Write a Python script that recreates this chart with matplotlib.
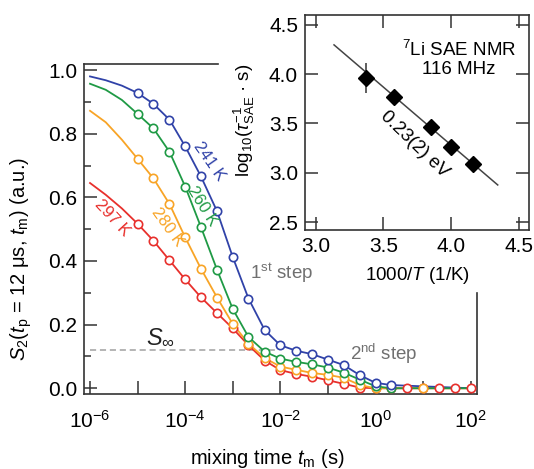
import numpy as np
import matplotlib
matplotlib.use("Agg")
import matplotlib.pyplot as plt
from matplotlib.ticker import FixedLocator

plt.rcParams['font.family'] = ['Liberation Sans', 'DejaVu Sans']
plt.rcParams['mathtext.fontset'] = 'custom'
plt.rcParams['mathtext.rm'] = 'Liberation Sans'
plt.rcParams['mathtext.it'] = 'Liberation Sans:italic'
plt.rcParams['mathtext.bf'] = 'Liberation Sans:bold'

# mixing times: 1/3-decade grid, exponents of 10
exp_blue = [-5, -4.67, -4.33, -4, -3.67, -3.33, -3, -2.67, -2.33, -2, -1.67, -1.33, -1, -0.67, -0.33, 0, 0.33]
s_blue = [0.928, 0.894, 0.844, 0.760, 0.666, 0.556, 0.412, 0.282, 0.183, 0.135, 0.118, 0.107, 0.090, 0.073, 0.041, 0.017, 0.010]

exp_green = [-5, -4.67, -4.33, -4, -3.67, -3.33, -3, -2.67, -2.33, -2, -1.67, -1.33, -1, -0.67, -0.33, 0, 0.33]
s_green = [0.862, 0.817, 0.743, 0.634, 0.507, 0.372, 0.249, 0.161, 0.115, 0.093, 0.083, 0.075, 0.065, 0.049, 0.027, 0.006, 0.0]

exp_orange = [-5, -4.67, -4.33, -4, -3.67, -3.33, -3, -2.67, -2.33, -2, -1.67, -1.33, -1, -0.67, -0.33, 0, 1]
s_orange = [0.721, 0.660, 0.579, 0.474, 0.376, 0.285, 0.202, 0.140, 0.095, 0.068, 0.058, 0.048, 0.042, 0.033, 0.010, 0.0, 0.0]

exp_red = [-5, -4.67, -4.33, -4, -3.67, -3.33, -3, -2.67, -2.33, -2, -1.67, -1.33, -1, -0.67, -0.33, 0, 0.33, 0.67, 1, 1.33, 1.67, 2]
s_red = [0.517, 0.464, 0.402, 0.342, 0.286, 0.236, 0.188, 0.135, 0.087, 0.057, 0.045, 0.036, 0.025, 0.014, 0.002, 0.0, 0.0, 0.0, 0.0, 0.0, 0.0, 0.0]

# fit curves before the first point (t = 1e-6 ... 1e-5)
exp_head = [-6, -5.67, -5.33]
head_blue = [0.980, 0.968, 0.951]
head_green = [0.957, 0.938, 0.906]
head_orange = [0.872, 0.836, 0.781]
head_red = [0.645, 0.608, 0.565]

s_inf = 0.119

# inset (Arrhenius)
inv_T = [3.37, 3.574, 3.85, 3.998, 4.158]
log_rate = [3.96, 3.772, 3.46, 3.265, 3.089]
log_err = [0.15, 0.0, 0.0, 0.0, 0.0]
fit_x = [3.135, 4.343]
fit_y = [4.297, 2.876]

c_blue = '#3042a8'
c_green = '#1f9a45'
c_orange = '#f8a426'
c_red = '#e8302c'
c_ax = '#333333'

fig = plt.figure(figsize=(5.34, 4.69), dpi=100)
ax = fig.add_axes([0.1579, 0.1593, 0.7348, 0.7042])

series = [(exp_red, s_red, head_red, c_red),
          (exp_orange, s_orange, head_orange, c_orange),
          (exp_blue, s_blue, head_blue, c_blue),
          (exp_green, s_green, head_green, c_green)]
for e, s, h, c in series:
    t = 10.0 ** np.array(exp_head + e + [2])
    y = h + s + [0.0]
    ax.plot(t, y, color=c, lw=1.3, zorder=2)
for e, s, h, c in [series[0], series[1], series[3], series[2]]:
    ax.plot(10.0 ** np.array(e), s, 'o', ms=6, mfc='white', mec=c, mew=1.2, zorder=3)

ax.plot([1e-6, 9e-3], [s_inf, s_inf], ls=(0, (4, 2.5)), color='#a0a0a0', lw=1.1, zorder=1)

ax.set_xscale('log')
ax.set_xlim(10 ** -6.12, 10 ** 2.126)
ax.set_ylim(-0.019, 1.019)

ax.xaxis.set_minor_locator(FixedLocator([]))
ax.set_xticks([10.0 ** k for k in range(-6, 3)])
ax.set_xticklabels(['$10^{%d}$' % k if k % 2 == 0 else '' for k in range(-6, 3)])
ax.set_yticks([0.0, 0.2, 0.4, 0.6, 0.8, 1.0])
ax.set_yticks(np.arange(0.1, 1.0, 0.2), minor=True)
ax.set_yticklabels(['0.0', '0.2', '0.4', '0.6', '0.8', '1.0'])

ax.tick_params(which='major', direction='in', length=9.5, width=1.1, color=c_ax,
               labelsize=15, top=False, right=False)
ax.tick_params(axis='x', pad=11)
ax.tick_params(axis='y', pad=5)
ax.tick_params(which='minor', direction='in', length=5, width=1.1, color=c_ax, right=False)
for sp in ax.spines.values():
    sp.set_color(c_ax)
    sp.set_linewidth(1.2)
ax.spines['top'].set_bounds(10 ** -6.12, 10 ** -3.31)
ax.spines['right'].set_bounds(-0.019, 0.30)

ax.set_xlabel('mixing time $t_{\\rm m}$ (s)', fontsize=14.5)
ax.xaxis.set_label_coords(0.468, -0.16)
ax.set_ylabel('$S_2$($t_{\\rm p}$ = 12 μs, $t_{\\rm m}$) (a.u.)', fontsize=14.5)
ax.yaxis.set_label_coords(-0.128, 0.41)

ax.text(10 ** -3.50, 0.713, '241 K', color=c_blue, fontsize=12, rotation=-55, ha='center', va='center')
ax.text(10 ** -3.64, 0.572, '260 K', color=c_green, fontsize=12, rotation=-58, ha='center', va='center')
ax.text(10 ** -4.38, 0.506, '280 K', color=c_orange, fontsize=12, rotation=-54, ha='center', va='center')
ax.text(10 ** -5.53, 0.535, '297 K', color=c_red, fontsize=12, rotation=-47, ha='center', va='center')
ax.text(10 ** -2.64, 0.363, '1$^{\\rm st}$ step', color='#707070', fontsize=13.5, ha='left', va='center')
ax.text(10 ** 0.176, 0.108, '2$^{\\rm nd}$ step', color='#707070', fontsize=13.5, ha='center', va='center')
ax.text(10 ** -4.53, 0.158, '$S_\\infty$', color='#222222', fontsize=17, ha='center', va='center')

# inset
ins = fig.add_axes([0.5712, 0.5096, 0.4195, 0.4584])
ins.plot(fit_x, fit_y, color='#444444', lw=1.1, zorder=2)
ins.errorbar(inv_T, log_rate, yerr=log_err, fmt='D', ms=8.5, color='black', ecolor='#333333',
             elinewidth=1.1, capsize=0, zorder=3)
ins.set_xlim(2.921, 4.574)
ins.set_ylim(2.419, 4.60)
ins.set_xticks([3.0, 3.5, 4.0, 4.5])
ins.set_yticks([2.5, 3.0, 3.5, 4.0, 4.5])
ins.set_xticklabels(['3.0', '3.5', '4.0', '4.5'])
ins.set_yticklabels(['2.5', '3.0', '3.5', '4.0', '4.5'])
ins.tick_params(direction='in', length=9.5, width=1.1, color=c_ax, labelsize=15,
                top=True, right=True, pad=5)
for sp in ins.spines.values():
    sp.set_color(c_ax)
    sp.set_linewidth(1.2)
ins.set_xlabel('1000/$T$ (1/K)', fontsize=13.5)
ins.xaxis.set_label_coords(0.502, -0.165)
ins.set_ylabel('log$_{10}$($\\tau_{\\rm SAE}^{-1}$ · s)', fontsize=13.5)
ins.yaxis.set_label_coords(-0.215, 0.512)
ins.text(0.686, 0.795, '$^7$Li SAE NMR\n116 MHz', transform=ins.transAxes, fontsize=13.5,
         ha='center', va='center', multialignment='center', linespacing=1.05)
ins.text(3.725, 3.29, '0.23(2) eV', fontsize=13.5, rotation=-44, ha='center', va='center')

fig.savefig('out.png', dpi=100)
